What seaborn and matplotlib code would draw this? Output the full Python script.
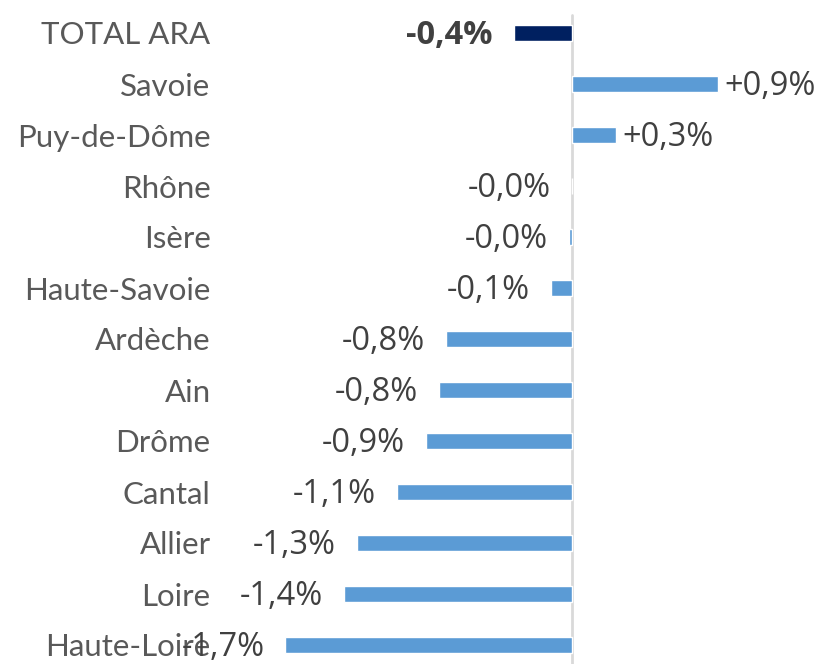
import matplotlib
matplotlib.use("Agg")
import matplotlib.pyplot as plt
import seaborn as sns
import pandas as pd

categories = ["TOTAL ARA", "Savoie", "Puy-de-Dôme", "Rhône", "Isère", "Haute-Savoie",
              "Ardèche", "Ain", "Drôme", "Cantal", "Allier", "Loire", "Haute-Loire"]
values = [-0.36, 0.90, 0.27, -0.003, -0.02, -0.13, -0.78, -0.82, -0.90, -1.08, -1.33, -1.41, -1.77]
labels = ["-0,4%", "+0,9%", "+0,3%", "-0,0%", "-0,0%", "-0,1%", "-0,8%", "-0,8%",
          "-0,9%", "-1,1%", "-1,3%", "-1,4%", "-1,7%"]
colors = ["#002060"] + ["#5B9BD5"] * 12

sns.set_theme(style="white")
plt.rcParams["font.family"] = ["Lato", "DejaVu Sans"]

df = pd.DataFrame({"category": categories, "value": values})

W, H = 829, 664
fig = plt.figure(figsize=(W / 100, H / 100), dpi=100)
left_px = 230
ax = fig.add_axes([left_px / W, 0, 1 - left_px / W, 1])

sns.barplot(data=df, x="value", y="category", hue="category", palette=colors,
            legend=False, width=0.3, orient="h", ax=ax, saturation=1)

zero_px = 572
ppu = 162.0
ax.set_xlim(-(zero_px - left_px) / ppu, (W - zero_px) / ppu)
ax.set_ylim((H - 33) / 51.0, -33 / 51.0)

ax.axvline(0, color="#d9d9d9", lw=2, zorder=0, ymin=0, ymax=(H - 15) / H)

for s in ax.spines.values():
    s.set_visible(False)
ax.set_xticks([])
ax.set_xlabel("")
ax.set_ylabel("")
ax.tick_params(axis="y", length=0, pad=14)
for t in ax.get_yticklabels():
    t.set_fontsize(22.5)
    t.set_color("#595959")

for i, (v, lab) in enumerate(zip(values, labels)):
    if v >= 0:
        off, ha = 5, "left"
    else:
        off, ha = -15, "right"
    ax.annotate(lab, xy=(v, i), xytext=(off, -2), textcoords="offset points",
                ha=ha, va="center", fontsize=23.5, color="#404040",
                family=["Open Sans", "DejaVu Sans"],
                fontweight="bold" if i == 0 else "normal")

fig.savefig("out.png", dpi=100)
